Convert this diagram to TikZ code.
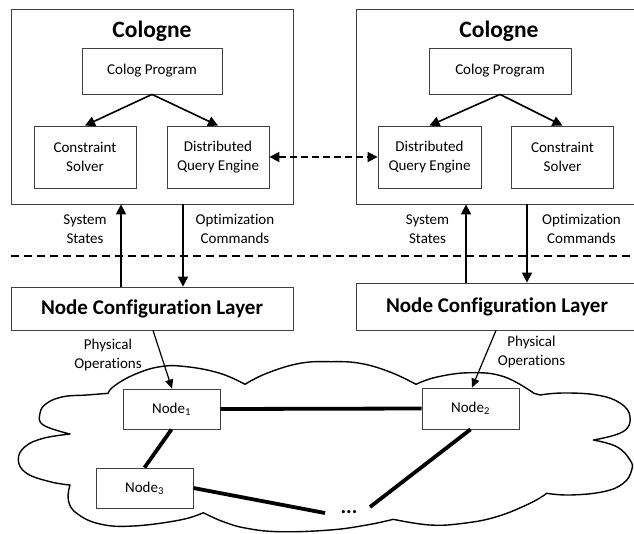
\documentclass[tikz,border=0pt]{standalone}
\usepackage{fontspec}
\setmainfont{Carlito}[Ligatures=NoCommon]
\usetikzlibrary{arrows.meta,calc}
\newcommand\regfont{\fontsize{15}{18.5}\selectfont}
\newcommand\ttlfont{\fontsize{23.5}{26}\selectfont\bfseries}
\newcommand\nclfont{\fontsize{21}{24}\selectfont\bfseries}
\begin{document}
\begin{tikzpicture}[x=1pt,y=-1pt,
  frame/.style={draw=black!75, line width=0.8pt, inner sep=0pt},
  box/.style={draw=black!75, fill=white, line width=0.8pt, inner sep=0pt, align=center, font=\regfont},
  lbl/.style={inner sep=0pt, align=center, font=\regfont},
  arr/.style={line width=1.6pt, -{Triangle[length=10pt,width=10pt]}},
  parr/.style={line width=1.2pt, -{Triangle[length=9pt,width=8pt]}},
  darr/.style={line width=1.6pt, dash pattern=on 7pt off 4pt, {Triangle[length=10pt,width=10pt]}-{Triangle[length=10pt,width=10pt]}},
  dline/.style={line width=1.6pt, dash pattern=on 8pt off 5pt},
  link/.style={line width=3.8pt},
  cloud/.style={line width=1.4pt, line join=round}
]
\useasboundingbox (0,0) rectangle (634,533);

% cloud
\draw[cloud] plot[smooth, tension=0.7] coordinates {(70,434) (43.3,425) (40,413.3) (46.7,403.3) (63.3,396.7) (86.7,395) (108.3,393.3)}
 -- plot[smooth, tension=0.7] coordinates {(108.3,393.3) (113.3,386.7) (133.3,375) (160,366.7) (186.7,366.7) (220,373.3) (245,384.3)}
 -- plot[smooth, tension=0.7] coordinates {(245,384.3) (266.7,373.3) (300,363.3) (331,361.7) (360,363.3) (390,372) (416,384.3)}
 -- plot[smooth, tension=0.7] coordinates {(416,384.3) (437,377) (470.7,372.7) (504,376.7) (534,393.3)}
 -- plot[smooth, tension=0.7] coordinates {(540,395) (563,393) (596.7,395) (620,403) (630,416.7) (623,431.7) (593.3,440)}
 -- plot[smooth, tension=0.7] coordinates {(593.3,440) (616.7,446.7) (630,460) (631.7,470) (623.3,483.3) (603.3,491.7) (570,495) (546.7,493.3)}
 -- plot[smooth, tension=0.7] coordinates {(546.7,493.3) (530,503.3) (496.7,516.7) (463.3,523.3) (430,525) (393.3,519.3)}
 -- plot[smooth, tension=0.7] coordinates {(393.3,519.3) (366.7,525) (330,530) (280,531.7) (246.7,528.3) (223.3,521.7) (203.3,512.7)}
 -- plot[smooth, tension=0.7] coordinates {(203.3,512.7) (180,520) (133.3,526) (100,524) (76.7,513.3) (68.3,500) (70,485)}
 -- plot[smooth, tension=0.7] coordinates {(70,485) (50,481.7) (26.7,473.3) (18.3,460) (25,446.7) (43.3,438.3) (70,434)} -- cycle;

% left Cologne
\node[frame, minimum width=282pt, minimum height=195pt] (col1) at (152,106.5) {};
\node[inner sep=0pt, font=\ttlfont] (t1) at (152,31) {Cologne};
\node[box, minimum width=140pt, minimum height=46pt] (cp1) at (152,71) {Colog Program};
\node[box, minimum width=102pt, minimum height=62pt] (cs1) at (85,157) {Constraint\\Solver};
\node[box, minimum width=102pt, minimum height=62pt] (dq1) at (218,157) {Distributed\\Query Engine};

% right Cologne
\node[frame, minimum width=282pt, minimum height=195pt] (col2) at (497,106.5) {};
\node[inner sep=0pt, font=\ttlfont] (t2) at (499,31) {Cologne};
\node[box, minimum width=142pt, minimum height=46pt] (cp2) at (500,71) {Colog Program};
\node[box, minimum width=103pt, minimum height=62pt] (dq2) at (429.5,157) {Distributed\\Query Engine};
\node[box, minimum width=102pt, minimum height=62pt] (cs2) at (562.5,157) {Constraint\\Solver};

\draw[arr] (cp1.south) -- (cs1.north);
\draw[arr] (cp1.south) -- (dq1.north);
\draw[arr] (cp2.south) -- (dq2.north);
\draw[arr] (cp2.south) -- (cs2.north);
\draw[darr] (dq1.east) -- (dq2.west);

% labels
\node[lbl] (ss1) at (85,229) {System\\States};
\node[lbl] (oc1) at (235,229) {Optimization\\Commands};
\node[lbl] (ss2) at (427.5,229) {System\\States};
\node[lbl] (oc2) at (581.5,229) {Optimization\\Commands};

% dashed separator
\coordinate (dl) at (11,256);
\coordinate (dr) at (640,256);
\draw[dline] (dl) -- (dr);

% node configuration layers
\node[box, minimum width=282pt, minimum height=43pt, font=\nclfont] (ncl1) at (152,308.5) {Node Configuration Layer};
\node[box, minimum width=282pt, minimum height=47pt, font=\nclfont] (ncl2) at (497,306.5) {Node Configuration Layer};

\draw[arr] (121,0 |- ncl1.north) -- (121,0 |- col1.south);
\draw[arr] (183,0 |- col1.south) -- (183,0 |- ncl1.north);
\draw[arr] (466,0 |- ncl2.north) -- (466,0 |- col2.south);
\draw[arr] (527,0 |- col2.south) -- (527,0 |- ncl2.north);

\node[lbl] (po1) at (108,355) {Physical\\Operations};
\node[lbl] (po2) at (531.5,352) {Physical\\Operations};

% physical nodes
\node[box, minimum width=97pt, minimum height=40pt] (n1) at (171.5,409) {Node\textsubscript{1}};
\node[box, minimum width=97pt, minimum height=41pt] (n2) at (470.5,408.5) {Node\textsubscript{2}};
\node[box, minimum width=97pt, minimum height=40pt] (n3) at (144.5,488) {Node\textsubscript{3}};
\node[inner sep=0pt, font=\fontsize{21}{24}\selectfont\bfseries] (dots) at (349,512) {...};
\coordinate (e3) at (325,513);
\coordinate (e2) at (370,507);

\draw[parr] (153,0 |- ncl1.south) -- (172,0 |- n1.north);
\draw[parr] (496,0 |- ncl2.south) -- (472,0 |- n2.north);

\draw[link] (n1.east) -- (n2.west);
\draw[link] (n1.south) -- (n3.north);
\draw[link] (n3.east) -- (e3);
\draw[link] (n2.south) -- (e2);
\end{tikzpicture}
\end{document}
